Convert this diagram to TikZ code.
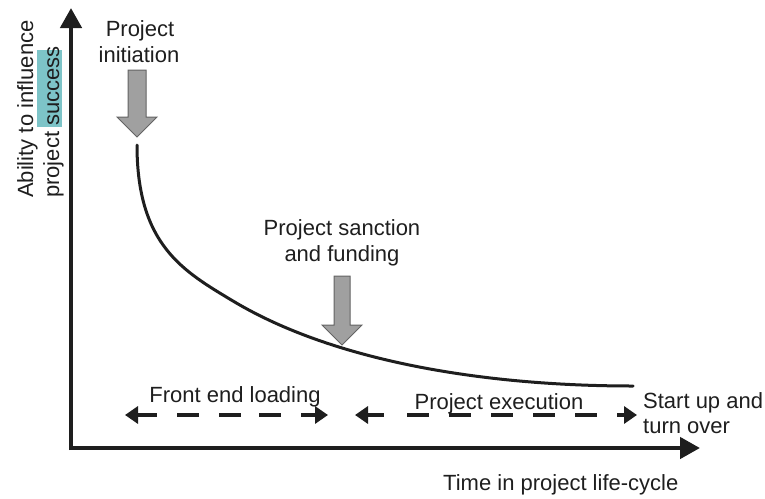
\documentclass[tikz,border=0pt]{standalone}
\usepackage{fontspec}
\setmainfont{Liberation Sans}
\usetikzlibrary{arrows.meta}
\definecolor{ink}{RGB}{30,30,30}
\definecolor{blockfill}{RGB}{160,160,160}
\definecolor{blockedge}{RGB}{100,100,100}
\definecolor{hilite}{RGB}{125,196,200}
\begin{document}
\begin{tikzpicture}[x=1pt,y=-1pt,
  lbl/.style={font=\fontsize{22}{26}\selectfont, text=ink, inner sep=0pt, anchor=base},
  axis/.style={draw=ink, line width=4.5pt, -{Triangle[length=20pt,width=21pt]}},
  phase/.style={draw=ink, line width=4pt,
    {Triangle[length=13pt,width=17pt]}-{Triangle[length=13pt,width=17pt]}},
  block/.style={fill=blockfill, draw=blockedge, line width=1pt, line join=miter},
  curve/.style={draw=ink, line width=3pt}]
\useasboundingbox (0,0) rectangle (765,498);

% axes
\coordinate (ybot) at (71,450);
\coordinate (ytop) at (71,8);
\coordinate (xbeg) at (69,448);
\coordinate (xend) at (700,448);
\draw[axis] (ybot) -- (ytop);
\draw[axis] (xbeg) -- (xend);

% vertical axis title with highlighted word
\fill[hilite] (37,50) rectangle (62,127);
\node[lbl, rotate=90, anchor=base west] (ylab1) at (33,198) {Ability to influence};
\node[lbl, rotate=90, anchor=base west] (ylab2) at (59,198) {project success};

% horizontal axis title
\node[lbl, anchor=base west] (xlab) at (443,490) {Time in project life-cycle};

% milestone labels
\node[lbl] (init1) at (140,36) {Project};
\node[lbl] (init2) at (139,62) {initiation};
\node[lbl] (sanc1) at (342,235) {Project sanction};
\node[lbl] (sanc2) at (342,261) {and funding};

% block arrows marking the milestones
\draw[block] (128,70) -- (146,70) -- (146,117) -- (157,117) -- (137,137)
  -- (117,117) -- (128,117) -- cycle;
\draw[block] (334,276) -- (350,276) -- (350,325) -- (362,325) -- (342,345)
  -- (322,325) -- (334,325) -- cycle;

% influence curve: two tangent-continuous cubic segments
\coordinate (cstart) at (137,145);
\coordinate (cmid) at (233,301);
\coordinate (cend) at (633,386);
\draw[curve, line cap=round] (cstart)
  .. controls (137,245) and (183,271) .. (cmid)
  .. controls (333,361) and (483,386) .. (cend);

% project phases
\coordinate (fel1) at (125,415);
\coordinate (fel2) at (328,415);
\coordinate (exe1) at (355,415);
\coordinate (exe2) at (637,415);
\draw[phase, dash pattern=on 20pt off 20pt on 22pt off 20pt on 22pt off 18pt on 22pt off 20pt on 40pt off 1pt]
  (fel1) -- (fel2);
\draw[phase, dash pattern=on 17pt off 23pt on 22pt off 20pt on 22pt off 20pt on 22pt off 20pt on 22pt off 20pt on 22pt off 20pt on 40pt off 1pt]
  (exe1) -- (exe2);
\node[lbl] (fellab) at (235,402) {Front end loading};
\node[lbl] (exelab) at (499,409) {Project execution};
\node[lbl, anchor=base west] (start1) at (643,408) {Start up and};
\node[lbl, anchor=base west] (start2) at (643,433) {turn over};
\end{tikzpicture}
\end{document}
